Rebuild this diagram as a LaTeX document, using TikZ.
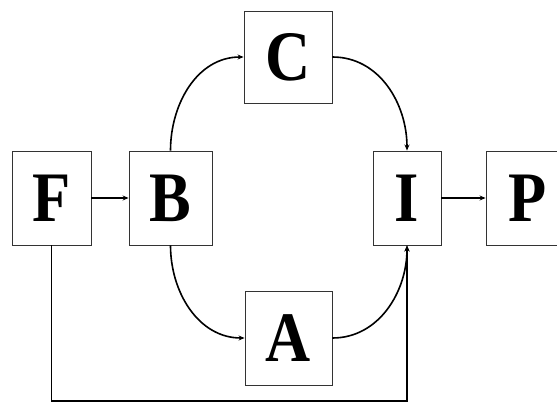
\documentclass[tikz,border=0pt]{standalone}
\usepackage{graphicx}
\usepackage{fontspec}
\newfontfamily\boxfont{Liberation Serif}[UprightFont={* Bold}]
\usetikzlibrary{arrows.meta}
\newcommand{\narrow}[1]{\scalebox{0.88}[1]{#1}}
\begin{document}
\begin{tikzpicture}[x=1pt,y=-1pt,
  blk/.style={draw=black!80, line width=0.9pt, fill=white, inner sep=0pt,
    font=\boxfont\fontsize{71}{71}\selectfont},
  conn/.style={line width=1.6pt, -{Stealth[length=6pt,width=5pt]}}]
\clip (0,0) rectangle (557,403);
\useasboundingbox (0,0) rectangle (557,403);
\node[blk, minimum width=79pt, minimum height=94pt] (F) at (51.5,198) {\narrow{F}};
\node[blk, minimum width=83pt, minimum height=94pt] (B) at (170.5,198) {\narrow{B}};
\node[blk, minimum width=88pt, minimum height=92pt] (C) at (288,57) {\narrow{C}};
\node[blk, minimum width=87pt, minimum height=94pt] (A) at (288.5,338) {\narrow{A}};
\node[blk, minimum width=68pt, minimum height=94pt] (I) at (407,198) {\narrow{I}};
\node[blk, minimum width=84pt, minimum height=94pt] (P) at (528,198) {\narrow{P}};
\coordinate (c1) at (51.5,401);
\coordinate (c2) at (407,401);
\draw[conn] (F) -- (B);
\draw[conn] (I) -- (P);
\draw[conn] (B.north) to[out=90,in=180] (C.west);
\draw[conn] (C.east) to[out=0,in=90] (I.north);
\draw[conn] (B.south) to[out=-90,in=180] (A.west);
\draw[conn] (A.east) to[out=0,in=-90] (I.south);
\draw[conn] (F.south) -- (c1) -- (c2) -- (I.south);
\end{tikzpicture}
\end{document}
